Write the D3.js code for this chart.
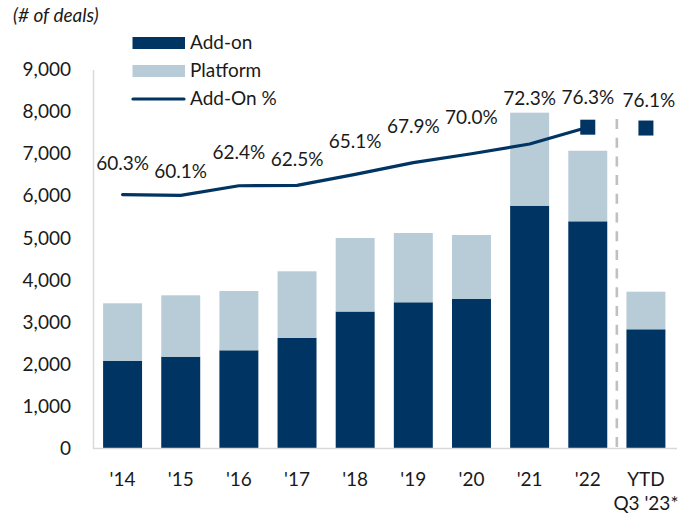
<!DOCTYPE html>
<html>
<head>
<meta charset="utf-8">
<script src="https://cdn.jsdelivr.net/npm/d3@7"></script>
<style>
  html, body { margin: 0; padding: 0; background: #ffffff; }
  svg { display: block; }
  text { font-family: Lato, "Open Sans", sans-serif; fill: #1a1a1a; }
</style>
</head>
<body>
<svg id="chart" width="691" height="516"></svg>
<script>
// Deal counts by year
const categories = ["'14", "'15", "'16", "'17", "'18", "'19", "'20", "'21", "'22", "YTD\nQ3 '23*"];
const addOn    = [2078, 2180, 2332, 2624, 3253, 3472, 3550, 5766, 5395, 2831];
const platform = [1370, 1458, 1408, 1584, 1746, 1645, 1520, 2209, 1676,  893];
const addOnPct = [60.3, 60.1, 62.4, 62.5, 65.1, 67.9, 70.0, 72.3, 76.3, 76.1];
const yTicks   = [0, 1000, 2000, 3000, 4000, 5000, 6000, 7000, 8000, 9000];

const NAVY = "#003462";
const LIGHT = "#b8ccd8";

// Vertical lift (px) of each percentage label above its point
const labelLift = [25, 17, 27, 19, 26, 30, 30, 39, 23, 21];

const svg = d3.select("#chart");

const x = d3.scaleBand()
  .domain(categories)
  .range([93.5, 675])
  .paddingInner(0.33)
  .paddingOuter(0.165);

const y = d3.scaleLinear().domain([0, 9000]).range([448.5, 69.5]);
// secondary (hidden) axis for the add-on share
const yPct = d3.scaleLinear().domain([0, 90]).range([448.5, 69.5]);

const rows = categories.map((c, i) => ({ cat: c, addOn: addOn[i], platform: platform[i], pct: addOnPct[i] }));
const stacked = d3.stack().keys(["addOn", "platform"])(rows);

// stacked bars
svg.append("g").selectAll("g")
  .data(stacked)
  .join("g")
  .attr("fill", d => d.key === "addOn" ? NAVY : LIGHT)
  .selectAll("rect")
  .data(d => d)
  .join("rect")
  .attr("x", d => x(d.data.cat))
  .attr("width", x.bandwidth())
  .attr("y", d => y(d[1]))
  .attr("height", d => y(d[0]) - y(d[1]));

// y axis
const yAxis = svg.append("g")
  .attr("transform", "translate(93,0)")
  .call(d3.axisLeft(y).tickValues(yTicks).tickFormat(d3.format(",")).tickSize(0).tickPadding(22));
yAxis.select(".domain").attr("stroke", "#d9d9d9").attr("stroke-width", 1.5);
yAxis.selectAll("text")
  .attr("font-size", 19)
  .attr("fill", "#1a1a1a")
  .style("font-family", "Lato, sans-serif");

// baseline
svg.append("line")
  .attr("x1", 93).attr("x2", 677)
  .attr("y1", y(0)).attr("y2", y(0))
  .attr("stroke", "#d9d9d9").attr("stroke-width", 1.5);

// x axis labels
const xl = svg.append("g").selectAll("text")
  .data(categories)
  .join("text")
  .attr("text-anchor", "middle")
  .attr("font-size", 19)
  .attr("x", d => x(d) + x.bandwidth() / 2)
  .attr("y", 486);
xl.each(function(d) {
  const lines = d.split("\n");
  d3.select(this).selectAll("tspan")
    .data(lines)
    .join("tspan")
    .attr("x", x(d) + x.bandwidth() / 2)
    .attr("dy", (l, i) => i === 0 ? 0 : 24)
    .text(l => l);
});

// separator between full years and YTD
const sepX = (x(categories[8]) + x.bandwidth() + x(categories[9])) / 2;
svg.append("line")
  .attr("x1", sepX).attr("x2", sepX)
  .attr("y1", 119).attr("y2", y(0))
  .attr("stroke", "#c0c0c0")
  .attr("stroke-width", 2.6)
  .attr("stroke-dasharray", "10,8.7");

// add-on share line (full years)
const cx = c => x(c) + x.bandwidth() / 2;
const lineRows = rows.slice(0, 9);
svg.append("path")
  .datum(lineRows)
  .attr("fill", "none")
  .attr("stroke", NAVY)
  .attr("stroke-width", 3.2)
  .attr("stroke-linecap", "round")
  .attr("stroke-linejoin", "round")
  .attr("d", d3.line().x(d => cx(d.cat)).y(d => yPct(d.pct)));

// square markers for '22 and YTD
svg.append("g").selectAll("rect")
  .data([rows[8], rows[9]])
  .join("rect")
  .attr("x", d => cx(d.cat) - 7.5)
  .attr("y", d => yPct(d.pct) - 7.5)
  .attr("width", 15).attr("height", 15)
  .attr("fill", NAVY);

// percentage labels
svg.append("g").selectAll("text")
  .data(rows)
  .join("text")
  .attr("text-anchor", "middle")
  .attr("font-size", 19)
  .attr("x", (d, i) => cx(d.cat) + (i === 9 ? 3 : 0))
  .attr("y", (d, i) => yPct(d.pct) - labelLift[i])
  .text(d => d3.format(".1f")(d.pct) + "%");

// unit note
svg.append("text")
  .attr("x", 13).attr("y", 22)
  .attr("font-size", 19)
  .attr("font-style", "italic")
  .text("(# of deals)");

// legend
const legend = svg.append("g");
const legendItems = [
  { label: "Add-on", type: "box", color: NAVY, y: 43 },
  { label: "Platform", type: "box", color: LIGHT, y: 71 },
  { label: "Add-On %", type: "line", color: NAVY, y: 99 }
];
legendItems.forEach(it => {
  if (it.type === "box") {
    legend.append("rect")
      .attr("x", 132.5).attr("y", it.y - 6)
      .attr("width", 52.5).attr("height", 12)
      .attr("fill", it.color);
  } else {
    legend.append("line")
      .attr("x1", 133).attr("x2", 184)
      .attr("y1", it.y).attr("y2", it.y)
      .attr("stroke", it.color).attr("stroke-width", 3.2)
      .attr("stroke-linecap", "round");
  }
  legend.append("text")
    .attr("x", 190).attr("y", it.y + 6)
    .attr("font-size", 19)
    .text(it.label);
});
</script>
</body>
</html>
